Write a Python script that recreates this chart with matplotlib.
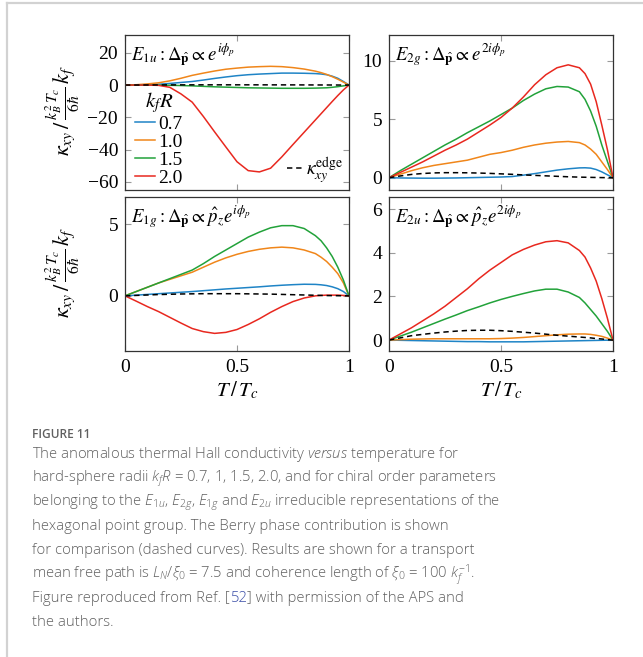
import matplotlib
matplotlib.use("Agg")
import matplotlib.pyplot as plt
from matplotlib.lines import Line2D

plt.rcParams.update({
    "font.family": ["Liberation Serif", "DejaVu Serif"],
    "mathtext.fontset": "stix",
    "mathtext.rm": "Open Sans:light",
    "mathtext.it": "Open Sans:italic:light",
    "mathtext.bf": "Open Sans:bold",
    "mathtext.sf": "Open Sans:light",
    "axes.unicode_minus": True,
})

# reduced temperature grid shared by every curve (denser near T_c)
T = [0, 0.05, 0.1, 0.15, 0.2, 0.25, 0.3, 0.35, 0.4, 0.45, 0.5, 0.55,
     0.6, 0.65, 0.7, 0.75, 0.8, 0.85, 0.875, 0.9, 0.925, 0.95, 0.975, 1.0]

kfR_labels = ["0.7", "1.0", "1.5", "2.0"]

# E1u : Delta ~ exp(i phi)
e1u_07 = [0, 0.05, 0.2, 0.5, 1.0, 1.6, 2.2, 3.1, 4.1, 5.0, 5.8, 6.4,
          6.8, 7.1, 7.4, 7.4, 7.3, 7.1, 6.85, 6.4, 5.5, 4.2, 2.2, 0]
e1u_10 = [0, 0.2, 0.7, 1.4, 2.6, 4.2, 6.0, 7.4, 8.7, 9.8, 10.5, 11.1,
          11.4, 11.6, 11.4, 10.8, 9.9, 8.6, 7.7, 6.6, 5.2, 3.6, 1.8, 0]
e1u_15 = [0, 0, 0, -0.05, -0.15, -0.3, -0.5, -0.8, -1.1, -1.3, -1.5, -1.7,
          -1.8, -1.9, -2.0, -2.0, -2.0, -1.9, -1.8, -1.7, -1.4, -1.0, -0.5, 0]
e1u_20 = [0, 0, 0, -0.2, -1.4, -5.5, -10.6, -19.5, -29, -38.3, -47.5, -53,
          -53.8, -51.5, -44.5, -36.8, -29.2, -21.6, -17.8, -14, -10.2, -6.5, -3, 0]
e1u_edge = [0, 0.02, 0.05, 0.08, 0.1, 0.12, 0.13, 0.14, 0.14, 0.14, 0.14, 0.14,
            0.13, 0.12, 0.11, 0.1, 0.08, 0.06, 0.05, 0.04, 0.03, 0.02, 0.01, 0]

# E2g : Delta ~ exp(2 i phi)
e2g_07 = [0, -0.02, -0.03, -0.04, -0.04, -0.03, -0.02, 0, 0.02, 0.04, 0.06, 0.1,
          0.22, 0.35, 0.5, 0.65, 0.76, 0.84, 0.85, 0.82, 0.7, 0.5, 0.25, 0]
e2g_10 = [0, 0.3, 0.6, 0.85, 1.05, 1.2, 1.35, 1.5, 1.75, 2.0, 2.15, 2.35,
          2.6, 2.8, 2.95, 3.05, 3.1, 3.0, 2.8, 2.45, 2.0, 1.35, 0.7, 0]
e2g_15 = [0, 0.6, 1.15, 1.7, 2.25, 2.8, 3.3, 3.85, 4.35, 4.85, 5.4, 5.95,
          6.6, 7.15, 7.6, 7.8, 7.75, 7.35, 6.7, 5.7, 4.4, 2.8, 1.4, 0]
e2g_20 = [0, 0.45, 0.9, 1.35, 1.85, 2.35, 2.8, 3.3, 3.9, 4.5, 5.15, 5.95,
          6.9, 7.95, 8.8, 9.4, 9.65, 9.4, 8.9, 8.0, 6.5, 4.5, 2.4, 0]
e2g_edge = [0, 0.15, 0.28, 0.36, 0.41, 0.43, 0.43, 0.42, 0.4, 0.37, 0.33, 0.29,
            0.24, 0.2, 0.16, 0.12, 0.08, 0.05, 0.04, 0.03, 0.02, 0.01, 0.005, 0]

# E1g : Delta ~ p_z exp(i phi)
e1g_07 = [0, 0.05, 0.1, 0.15, 0.2, 0.25, 0.3, 0.36, 0.42, 0.48, 0.53, 0.58,
          0.63, 0.69, 0.74, 0.78, 0.81, 0.8, 0.77, 0.72, 0.63, 0.5, 0.3, 0]
e1g_10 = [0, 0.3, 0.6, 0.9, 1.15, 1.4, 1.65, 2.0, 2.35, 2.65, 2.9, 3.1,
          3.25, 3.35, 3.4, 3.35, 3.2, 2.95, 2.7, 2.4, 2.0, 1.55, 0.9, 0]
e1g_15 = [0, 0.3, 0.6, 0.9, 1.2, 1.5, 1.8, 2.25, 2.75, 3.2, 3.65, 4.1,
          4.45, 4.75, 4.9, 4.9, 4.7, 4.2, 3.85, 3.35, 2.75, 2.0, 1.1, 0]
e1g_20 = [0, -0.37, -0.75, -1.1, -1.5, -1.9, -2.28, -2.5, -2.62, -2.55, -2.35, -2.0,
          -1.6, -1.15, -0.75, -0.4, -0.15, 0.0, 0.03, 0.05, 0.05, 0.05, 0.03, 0]
e1g_edge = [0, 0.03, 0.06, 0.09, 0.11, 0.13, 0.14, 0.15, 0.15, 0.15, 0.15, 0.14,
            0.13, 0.12, 0.1, 0.08, 0.06, 0.04, 0.03, 0.02, 0.015, 0.01, 0.005, 0]

# E2u : Delta ~ p_z exp(2 i phi)
e2u_07 = [0, -0.01, -0.02, -0.03, -0.04, -0.05, -0.06, -0.07, -0.07, -0.08, -0.08, -0.08,
          -0.08, -0.07, -0.06, -0.05, -0.04, -0.03, -0.025, -0.02, -0.015, -0.01, -0.005, 0]
e2u_10 = [0, 0.02, 0.04, 0.05, 0.06, 0.06, 0.06, 0.06, 0.06, 0.06, 0.07, 0.09,
          0.12, 0.16, 0.2, 0.24, 0.27, 0.28, 0.28, 0.26, 0.22, 0.17, 0.09, 0]
e2u_15 = [0, 0.18, 0.36, 0.56, 0.76, 0.96, 1.15, 1.35, 1.52, 1.7, 1.86, 2.0,
          2.13, 2.25, 2.33, 2.33, 2.2, 1.95, 1.7, 1.4, 1.1, 0.75, 0.4, 0]
e2u_20 = [0, 0.28, 0.56, 0.88, 1.2, 1.55, 1.95, 2.35, 2.8, 3.2, 3.55, 3.9,
          4.15, 4.35, 4.5, 4.55, 4.45, 4.1, 3.8, 3.3, 2.7, 1.9, 1.0, 0]
e2u_edge = [0, 0.1, 0.2, 0.26, 0.32, 0.37, 0.41, 0.44, 0.45, 0.45, 0.43, 0.4,
            0.36, 0.32, 0.27, 0.22, 0.18, 0.14, 0.12, 0.1, 0.07, 0.05, 0.02, 0]

colors = ["#1f84c6", "#f0861a", "#22a23a", "#e8281f"]

panels = [
    dict(rect=[125, 35, 224, 155], title=r"$E_{1u} : \Delta_{\hat{\mathbf{p}}} \propto e^{i\phi_p}$",
         curves=[e1u_07, e1u_10, e1u_15, e1u_20], edge=e1u_edge,
         ylim=(-65, 31), yticks=[-60, -40, -20, 0, 20], bottom=False, ylabel=True),
    dict(rect=[389, 35, 224, 155], title=r"$E_{2g} : \Delta_{\hat{\mathbf{p}}} \propto e^{2i\phi_p}$",
         curves=[e2g_07, e2g_10, e2g_15, e2g_20], edge=e2g_edge,
         ylim=(-1.05, 12.2), yticks=[0, 5, 10], bottom=False, ylabel=False),
    dict(rect=[125, 197, 224, 154], title=r"$E_{1g} : \Delta_{\hat{\mathbf{p}}} \propto \hat{p}_z e^{i\phi_p}$",
         curves=[e1g_07, e1g_10, e1g_15, e1g_20], edge=e1g_edge,
         ylim=(-3.85, 6.9), yticks=[0, 5], bottom=True, ylabel=True),
    dict(rect=[389, 197, 224, 154], title=r"$E_{2u} : \Delta_{\hat{\mathbf{p}}} \propto \hat{p}_z e^{2i\phi_p}$",
         curves=[e2u_07, e2u_10, e2u_15, e2u_20], edge=e2u_edge,
         ylim=(-0.5, 6.55), yticks=[0, 2, 4, 6], bottom=True, ylabel=False),
]

W, H = 643, 657
fig = plt.figure(figsize=(W / 100, H / 100), dpi=100)

ylabel = r"$\kappa_{xy}\,/\,\frac{k_B^2\,T_c}{6\hbar}\,k_f$"

for i, p in enumerate(panels):
    x0, y0, w, h = p["rect"]
    ax = fig.add_axes([x0 / W, 1 - (y0 + h) / H, w / W, h / H])
    handles = []
    for ys, c in zip(p["curves"], colors):
        ln, = ax.plot(T, ys, color=c, lw=1.1)
        handles.append(ln)
    edge_ln, = ax.plot(T, p["edge"], color="black", lw=1.1, ls=(0, (3.5, 2.5)))

    ax.set_xlim(0, 1)
    ax.set_ylim(*p["ylim"])
    ax.set_xticks([0, 0.5, 1])
    ax.set_xticklabels(["0", "0.5", "1"] if p["bottom"] else [])
    ax.set_yticks(p["yticks"])
    ax.tick_params(direction="in", length=4, width=0.8, color="#9a9a9a",
                   top=True, right=True, labelsize=14)
    ax.tick_params(axis="x", pad=6)
    ax.tick_params(axis="y", pad=5)
    for s in ax.spines.values():
        s.set_color("#333333")
        s.set_linewidth(0.9)

    ax.text(0.027, 0.875, p["title"], transform=ax.transAxes,
            ha="left", va="center", fontsize=13.5)

    if p["bottom"]:
        ax.set_xlabel(r"$T\,/\,T_c$", fontsize=15, labelpad=2)
    if p["ylabel"]:
        fig.text(63 / W, 1 - (y0 + h / 2 - 2) / H, ylabel, rotation=90,
                 ha="center", va="center", fontsize=16)

    if i == 0:
        leg = ax.legend(handles=handles, labels=kfR_labels, title=r"$k_fR$",
                        loc="upper left", bbox_to_anchor=(0.045, 0.645),
                        frameon=False, fontsize=14, title_fontsize=15,
                        handlelength=1.05, handletextpad=0.15,
                        labelspacing=0.02, borderpad=0, borderaxespad=0)
        leg._legend_box.sep = 0
        ax.add_artist(leg)
        ax.legend(handles=[edge_ln], labels=[r"$\kappa_{xy}^{\mathrm{edge}}$"],
                  loc="lower right", bbox_to_anchor=(0.975, 0.025),
                  frameon=False, fontsize=14, handlelength=0.8,
                  handletextpad=0.2, borderpad=0, borderaxespad=0)

# page border
fig.add_artist(Line2D([7 / W, 7 / W], [0, 1 - 3 / H], color="#d2d2d2", lw=1.6))
fig.add_artist(Line2D([7 / W, 1], [1 - 3 / H, 1 - 3 / H], color="#d2d2d2", lw=1.6))

# caption
text_grey = "#606060"
cap_kw = dict(family="Open Sans", color=text_grey, fontsize=10.75, weight="light",
              math_fontfamily="custom", va="baseline", ha="left")
cx = 32 / W
fig.text(cx, 1 - 438.5 / H, "FIGURE 11", family="Open Sans", color=text_grey,
         fontsize=8.6, weight="semibold", va="baseline")

caption = [
    r"The anomalous thermal Hall conductivity $\mathit{versus}$ temperature for",
    r"hard-sphere radii $k_fR$ = 0.7, 1, 1.5, 2.0, and for chiral order parameters",
    r"belonging to the $E_{1u}$, $E_{2g}$, $E_{1g}$ and $E_{2u}$ irreducible representations of the",
    "hexagonal point group. The Berry phase contribution is shown",
    "for comparison (dashed curves). Results are shown for a transport",
    r"mean free path is $L_N/\xi_0$ = 7.5 and coherence length of $\xi_0$ = 100 $k_f^{-1}$.",
    None,
    "the authors.",
]
baselines = [458.5, 482.5, 506.5, 530.5, 554.5, 578.5, 602.5, 626.5]
for line, yb in zip(caption, baselines):
    if line is not None:
        fig.text(cx, 1 - yb / H, line, **cap_kw)

# line with the blue reference number
renderer = fig.canvas.get_renderer()
yb = 1 - baselines[6] / H
pieces = [("Figure reproduced from Ref. [", text_grey), ("52", "#3c4fa8"),
          ("] with permission of the APS and", text_grey)]
x = cx
for txt, col in pieces:
    kw = dict(cap_kw)
    kw["color"] = col
    t = fig.text(x, yb, txt, **kw)
    x += t.get_window_extent(renderer).width / W

fig.savefig("out.png", dpi=100, facecolor="white")
